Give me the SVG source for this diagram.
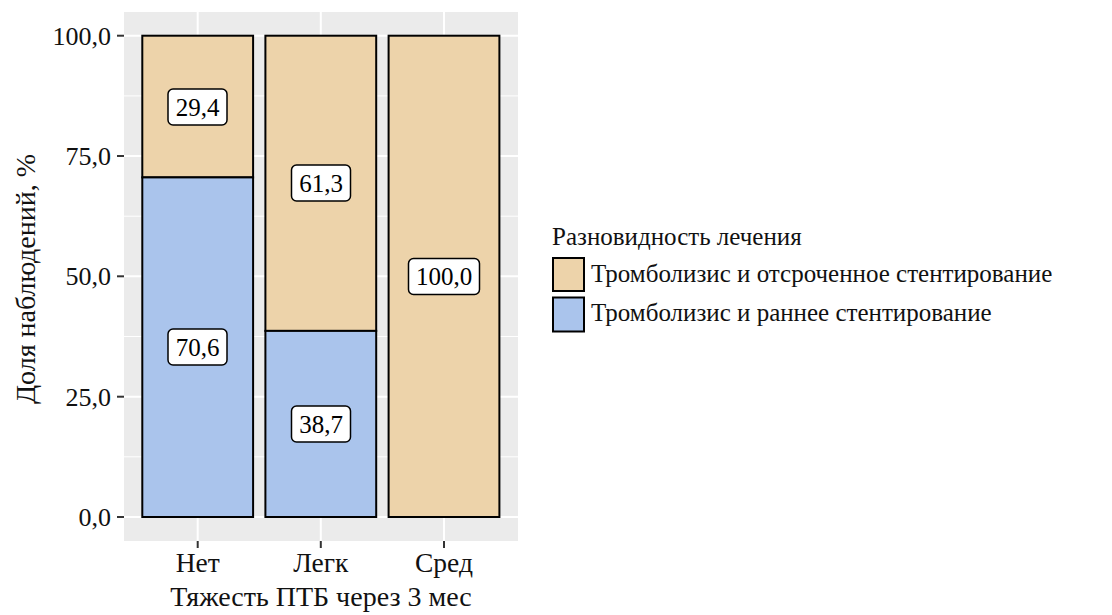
<svg xmlns="http://www.w3.org/2000/svg" width="1112" height="615" viewBox="0 0 1112 615" font-family="Liberation Serif, Times New Roman, DejaVu Serif, serif">
<style>
text{font-family:'Liberation Serif','Times New Roman','DejaVu Serif',serif;font-size:25px;fill:#111}
.grid-major{stroke:#fff;stroke-width:2}
.grid-minor{stroke:#fff;stroke-width:1}
.tick{stroke:#333;stroke-width:2}
.bar{stroke:#000;stroke-width:2}
.tan{fill:#EDD3AA}
.blue{fill:#AAC4EC}
.lbl rect{fill:#fff;stroke:#000;stroke-width:1.5}
.lbl text{text-anchor:middle;fill:#000}
.yt{text-anchor:end;font-size:26px}
.xt{text-anchor:middle;font-size:27.5px}
.title{text-anchor:middle;font-size:28px}
</style>
<rect width="1112" height="615" fill="#fff"/>
<g id="panel">
<rect x="124" y="12" width="394" height="529" fill="#EBEBEB"/>
<g class="grid-minor">
<line x1="124" x2="518" y1="456.8" y2="456.8"/>
<line x1="124" x2="518" y1="336.5" y2="336.5"/>
<line x1="124" x2="518" y1="216.2" y2="216.2"/>
<line x1="124" x2="518" y1="95.9" y2="95.9"/>
</g>
<g class="grid-major">
<line x1="124" x2="518" y1="517" y2="517"/>
<line x1="124" x2="518" y1="396.7" y2="396.7"/>
<line x1="124" x2="518" y1="276.3" y2="276.3"/>
<line x1="124" x2="518" y1="156" y2="156"/>
<line x1="124" x2="518" y1="35.7" y2="35.7"/>
<line x1="197.7" x2="197.7" y1="12" y2="541"/>
<line x1="320.8" x2="320.8" y1="12" y2="541"/>
<line x1="444" x2="444" y1="12" y2="541"/>
</g>
</g>
<g id="bar-net">
<rect class="bar tan" x="142.3" y="35.7" width="110.8" height="141.7"/>
<rect class="bar blue" x="142.3" y="177.4" width="110.8" height="339.6"/>
</g>
<g id="bar-legk">
<rect class="bar tan" x="265.4" y="35.7" width="110.8" height="295.2"/>
<rect class="bar blue" x="265.4" y="330.9" width="110.8" height="186.1"/>
</g>
<g id="bar-sred">
<rect class="bar tan" x="388.6" y="35.7" width="110.8" height="481.3"/>
</g>
<g id="labels">
<g class="lbl" id="lbl-294"><rect x="168" y="89" width="59" height="36" rx="5"/><text x="197.5" y="115.5">29,4</text></g>
<g class="lbl" id="lbl-706"><rect x="168" y="329" width="59" height="36" rx="5"/><text x="197.5" y="355.5">70,6</text></g>
<g class="lbl" id="lbl-613"><rect x="291.5" y="165" width="59" height="36" rx="5"/><text x="321" y="191.5">61,3</text></g>
<g class="lbl" id="lbl-387"><rect x="291.5" y="406" width="59" height="36" rx="5"/><text x="321" y="432.5">38,7</text></g>
<g class="lbl" id="lbl-1000"><rect x="408.5" y="258.5" width="71" height="36" rx="5"/><text x="444" y="285">100,0</text></g>
</g>
<g id="axes">
<g class="tick">
<line x1="117" x2="124" y1="35.7" y2="35.7"/>
<line x1="117" x2="124" y1="156" y2="156"/>
<line x1="117" x2="124" y1="276.3" y2="276.3"/>
<line x1="117" x2="124" y1="396.7" y2="396.7"/>
<line x1="117" x2="124" y1="517" y2="517"/>
<line x1="197.7" x2="197.7" y1="541" y2="548"/>
<line x1="320.8" x2="320.8" y1="541" y2="548"/>
<line x1="444" x2="444" y1="541" y2="548"/>
</g>
<text class="yt" x="111" y="44.5">100,0</text>
<text class="yt" x="111" y="164.8">75,0</text>
<text class="yt" x="111" y="285.1">50,0</text>
<text class="yt" x="111" y="405.5">25,0</text>
<text class="yt" x="111" y="525.8">0,0</text>
<text class="xt" x="197.7" y="572">Нет</text>
<text class="xt" x="320.8" y="572">Легк</text>
<text class="xt" x="444" y="572">Сред</text>
<text class="title" x="321" y="606">Тяжесть ПТБ через 3 мес</text>
<text class="title" transform="translate(35 279) rotate(-90)">Доля наблюдений, %</text>
</g>
<g id="legend">
<text x="552" y="245">Разновидность лечения</text>
<rect class="tan" x="553" y="258" width="31" height="33" stroke="#000" stroke-width="2"/>
<rect class="blue" x="553" y="297.5" width="31" height="34" stroke="#000" stroke-width="2"/>
<text x="591" y="282">Тромболизис и отсроченное стентирование</text>
<text x="591" y="321">Тромболизис и раннее стентирование</text>
</g>
</svg>
